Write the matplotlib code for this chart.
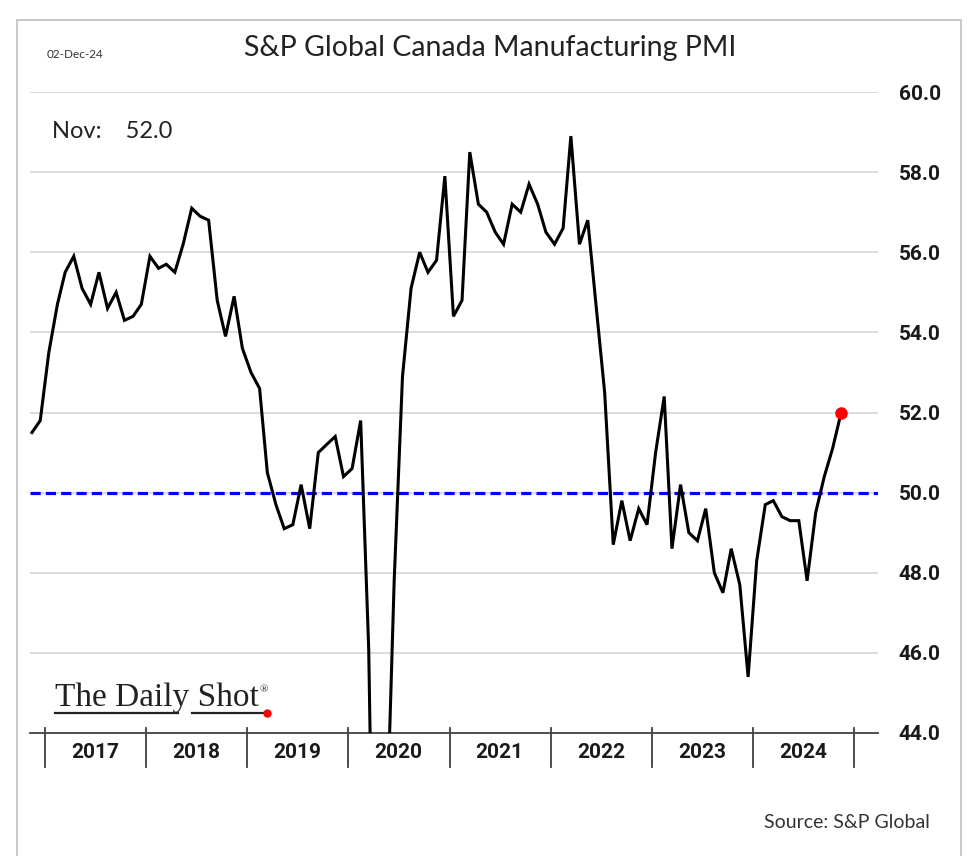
import numpy as np
import pandas as pd
import matplotlib
matplotlib.use("Agg")
import matplotlib.pyplot as plt
import matplotlib.dates as mdates
from matplotlib.patches import Rectangle
from matplotlib.lines import Line2D

# monthly PMI, Nov 2016 .. Nov 2024
start_month = "2016-11-01"
pmi = [
    51.5, 51.8,
    53.5, 54.7, 55.5, 55.9, 55.1, 54.7, 55.5, 54.6, 55.0, 54.3, 54.4, 54.7,
    55.9, 55.6, 55.7, 55.5, 56.2, 57.1, 56.9, 56.8, 54.8, 53.9, 54.9, 53.6,
    53.0, 52.6, 50.5, 49.7, 49.1, 49.2, 50.2, 49.1, 51.0, 51.2, 51.4, 50.4,
    50.6, 51.8, 46.1, 33.0, 40.6, 47.8, 52.9, 55.1, 56.0, 55.5, 55.8, 57.9,
    54.4, 54.8, 58.5, 57.2, 57.0, 56.5, 56.2, 57.2, 57.0, 57.7, 57.2, 56.5,
    56.2, 56.6, 58.9, 56.2, 56.8, 54.6, 52.5, 48.7, 49.8, 48.8, 49.6, 49.2,
    51.0, 52.4, 48.6, 50.2, 49.0, 48.8, 49.6, 48.0, 47.5, 48.6, 47.7, 45.4,
    48.3, 49.7, 49.8, 49.4, 49.3, 49.3, 47.8, 49.5, 50.4, 51.1, 52.0,
]
years = list(range(2017, 2025))
y_ticks = [44, 46, 48, 50, 52, 54, 56, 58, 60]
threshold = 50.0
latest_label = "Nov:    52.0"

dates = pd.date_range(start_month, periods=len(pmi), freq="MS") + pd.Timedelta(days=14)

W, H = 979, 856
fig = plt.figure(figsize=(W / 100, H / 100), dpi=100)
fig.patch.set_facecolor("white")

# outer frame
fig.patches.append(Rectangle((17 / W, -0.01), (961 - 17) / W, (H - 20) / H + 0.01,
                             transform=fig.transFigure, fill=False,
                             edgecolor="#bfbfbf", lw=1.2))

ax = fig.add_axes([30 / W, (H - 733) / H, 848 / W, (733 - 92) / H])

ax.plot(dates, pmi, color="black", lw=2.2, solid_joinstyle="miter", zorder=3)
ax.plot(dates[-1:], pmi[-1:], "o", color="#ff0000", ms=8, zorder=4)
ax.axhline(threshold, color="#0000ff", lw=2.3, dashes=(3.2, 1.6), zorder=2)

ax.set_ylim(44, 60)
ax.set_xlim(pd.Timestamp("2016-11-08"), pd.Timestamp("2025-03-28"))

ax.yaxis.tick_right()
ax.set_yticks(y_ticks)
ax.set_yticklabels([f"{v:.1f}" for v in y_ticks])
ax.tick_params(axis="y", length=0, pad=15)
for v in y_ticks[1:]:
    ax.axhline(v, color="#d9d9d9", lw=1.3, zorder=1)

year_starts = [pd.Timestamp(f"{y}-01-01") for y in years + [years[-1] + 1]]
ax.set_xticks(year_starts)
ax.set_xticklabels([])
ax.tick_params(axis="x", which="major", direction="inout", length=0)
ax.set_xticks([pd.Timestamp(f"{y}-07-01") for y in years], minor=True)
ax.set_xticklabels([str(y) for y in years], minor=True)
ax.tick_params(axis="x", which="minor", length=0, pad=7)

for lab in ax.get_yticklabels() + ax.get_xticklabels(minor=True):
    lab.set_family(["Roboto", "DejaVu Sans"])
    lab.set_fontweight("bold")
    lab.set_fontsize(15)
    lab.set_color("#1a1a1a")

for s in ["top", "left", "right"]:
    ax.spines[s].set_visible(False)
ax.spines["bottom"].set_color("#404040")
ax.spines["bottom"].set_linewidth(1.3)

# year separator ticks
for d in year_starts:
    xf = ax.transData.transform((mdates.date2num(d), 44))[0] / W
    fig.add_artist(Line2D([xf, xf], [(H - 767) / H, (H - 728) / H],
                          color="#404040", lw=1.3, transform=fig.transFigure))

fig.text(490 / W, (H - 48) / H, "S&P Global Canada Manufacturing PMI",
         ha="center", va="center", fontsize=20.5, family=["Lato", "DejaVu Sans"],
         color="#222222")
fig.text(47 / W, (H - 55) / H, "02-Dec-24", ha="left", va="center",
         fontsize=8.5, family=["Lato", "DejaVu Sans"], color="#333333")
fig.text(52 / W, (H - 132) / H, latest_label, ha="left", va="center",
         fontsize=17, family=["Lato", "DejaVu Sans"], color="#222222")
fig.text(930 / W, (H - 822) / H, "Source: S&P Global", ha="right", va="center",
         fontsize=14, family=["Lato", "DejaVu Sans"], color="#333333")

# logo
fig.text(55 / W, (H - 706) / H, "The Daily Shot", ha="left", va="baseline",
         fontsize=24, family=["Liberation Serif", "DejaVu Serif"], color="#222222")
fig.text(260 / W, (H - 690) / H, "®", ha="left", va="center",
         fontsize=8, family=["Liberation Serif", "DejaVu Serif"], color="#222222")
uy = (H - 713) / H
fig.add_artist(Line2D([55 / W, 178 / W], [uy, uy], color="#222222", lw=1.6,
                      transform=fig.transFigure))
fig.add_artist(Line2D([192 / W, 265 / W], [uy, uy], color="#222222", lw=1.6,
                      transform=fig.transFigure))
fig.add_artist(Line2D([267 / W], [uy], marker="o", color="#ff0000", ms=5,
                      transform=fig.transFigure))

fig.savefig("out.png", dpi=100)
